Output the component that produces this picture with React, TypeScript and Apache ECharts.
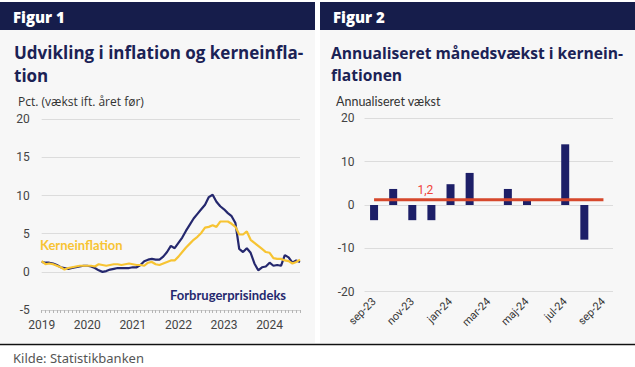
import React, { useEffect, useRef } from "react";
import * as echarts from "echarts";

// ---------- Data ----------
const years = ["2019", "2020", "2021", "2022", "2023", "2024"];
const monthsPerYear = ["01", "02", "03", "04", "05", "06", "07", "08", "09", "10", "11", "12"];
const lastMonthCount = 9; // 2024 ends in September

// Forbrugerprisindeks, pct. vækst ift. året før (2019-01 .. 2024-09)
const cpi = [
  1.3, 1.2, 1.2, 1.1, 0.9, 0.6, 0.5, 0.4, 0.5, 0.6, 0.7, 0.8,
  0.8, 0.7, 0.5, 0.2, 0.0, 0.1, 0.3, 0.4, 0.5, 0.5, 0.5, 0.5,
  0.6, 0.6, 0.9, 1.4, 1.6, 1.7, 1.6, 1.6, 2.0, 2.6, 3.4, 3.1,
  3.8, 4.5, 5.4, 6.2, 7.0, 7.6, 8.2, 8.8, 9.8, 10.1, 9.2, 8.6,
  8.2, 7.7, 7.3, 6.4, 3.0, 2.6, 3.1, 2.5, 1.1, 0.2, 0.6, 0.7,
  1.2, 0.8, 0.9, 0.8, 2.2, 1.9, 1.2, 1.5, 1.3,
];

// Kerneinflation (2019-01 .. 2024-09)
const core = [
  1.4, 1.0, 1.1, 1.0, 0.8, 0.6, 0.3, 0.5, 0.6, 0.7, 0.8, 0.8,
  0.8, 0.8, 0.7, 1.0, 0.9, 0.8, 0.9, 1.0, 1.0, 0.9, 1.0, 1.1,
  1.0, 0.9, 0.9, 0.8, 1.2, 1.3, 1.0, 0.9, 1.1, 1.3, 1.5, 1.5,
  2.0, 2.6, 3.2, 3.7, 4.2, 4.6, 5.1, 5.8, 5.9, 6.1, 5.9, 6.6,
  6.6, 6.6, 6.3, 5.9, 4.9, 4.9, 5.3, 4.2, 3.8, 3.4, 3.0, 2.6,
  2.5, 1.8, 1.7, 1.7, 1.5, 1.4, 1.1, 1.3, 1.6,
];

// Figur 2
const barMonths = [
  "sep-23", "okt-23", "nov-23", "dec-23", "jan-24", "feb-24", "mar-24",
  "apr-24", "maj-24", "jun-24", "jul-24", "aug-24", "sep-24",
];
const annualGrowth = [-3.5, 3.7, -3.5, -3.5, 4.8, 7.4, 0, 3.7, 1.3, 0, 14.0, -8.0, 0];
const averageLine = [1.2, 1.2, 1.2, 1.2, 1.2, 1.2, 1.2, 1.2, 1.2, 1.2, 1.2, 1.2, 1.2];
const averageLabelIndex = 3;

// ---------- Helpers ----------
const months: string[] = [];
years.forEach((y, yi) => {
  const count = yi === years.length - 1 ? lastMonthCount : 12;
  for (let m = 0; m < count; m++) months.push(`${y}-${monthsPerYear[m]}`);
});

const NAVY = "#161d4b";
const TITLE = "#1b2255";
const PANEL = "#f7f7f7";
const LINE_NAVY = "#25286e";
const YELLOW = "#f7c433";
const BAR = "#1d1f68";
const RED = "#d6482c";
const HEAD_FONT = "'Open Sans', Lato, sans-serif";
const LABEL_FONT = "Lato, 'Open Sans', sans-serif";
const AXIS_FONT = "Roboto, 'Noto Sans', sans-serif";

export default function App() {
  const ref = useRef<HTMLDivElement>(null);

  useEffect(() => {
    document.body.style.margin = "0";
    if (!ref.current) return;
    const chart = echarts.init(ref.current, undefined, { renderer: "svg" });

    const text = (x: number, y: number, t: string, font: string, fill: string, extra: any = {}) => ({
      type: "text",
      x,
      y,
      silent: true,
      style: { text: t, font, fill, textVerticalAlign: "middle", ...extra },
    });

    const option: any = {
      animation: false,
      backgroundColor: "#ffffff",
      graphic: [
        { type: "rect", shape: { x: 0, y: 2, width: 315, height: 341 }, style: { fill: PANEL }, z: -10, silent: true },
        { type: "rect", shape: { x: 320, y: 2, width: 315, height: 341 }, style: { fill: PANEL }, z: -10, silent: true },
        { type: "rect", shape: { x: 0, y: 2, width: 315, height: 28 }, style: { fill: NAVY }, z: -9, silent: true },
        { type: "rect", shape: { x: 320, y: 2, width: 315, height: 28 }, style: { fill: NAVY }, z: -9, silent: true },
        { type: "line", shape: { x1: 0, y1: 344.5, x2: 635, y2: 344.5 }, style: { stroke: "#111", lineWidth: 1.5 }, silent: true },
        text(13, 17, "Figur 1", `800 15px ${HEAD_FONT}`, "#ffffff"),
        text(333, 17, "Figur 2", `800 15px ${HEAD_FONT}`, "#ffffff"),
        text(14, 52.5, "Udvikling i inflation og kerneinfla-", `bold 17px ${HEAD_FONT}`, TITLE),
        text(14, 75, "tion", `bold 17px ${HEAD_FONT}`, TITLE),
        text(331, 52.5, "Annualiseret månedsvækst i kernein-", `bold 15.6px ${HEAD_FONT}`, TITLE),
        text(331, 75, "flationen", `bold 15.6px ${HEAD_FONT}`, TITLE),
        text(18, 101, "Pct. (vækst ift. året før)", `12px 'Open Sans', sans-serif`, "#333"),
        text(336, 101, "Annualiseret vækst", `12.5px ${LABEL_FONT}`, "#333"),
        text(40, 245, "Kerneinflation", `bold 13px ${LABEL_FONT}`, YELLOW),
        text(170, 295, "Forbrugerprisindeks", `bold 13px ${LABEL_FONT}`, LINE_NAVY),
        text(13, 358, "Kilde: Statistikbanken", `13px 'Noto Sans', sans-serif`, "#555"),
      ],
      grid: [
        { left: 41.7, top: 119.3, width: 258.3, height: 190.7 },
        { left: 364.5, top: 118.3, width: 248.5, height: 173.4 },
      ],
      xAxis: [
        {
          type: "category",
          gridIndex: 0,
          data: months,
          boundaryGap: false,
          axisLine: { show: true, onZero: false, lineStyle: { color: "#cfcfcf" } },
          axisTick: { show: true, interval: 0, length: 3, lineStyle: { color: "#b5b5b5" } },
          axisLabel: {
            interval: (i: number) => i % 12 === 0,
            formatter: (v: string) => v.slice(0, 4),
            fontSize: 12,
            color: "#444",
            fontFamily: AXIS_FONT,
            margin: 9,
          },
          splitLine: { show: false },
        },
        {
          type: "category",
          gridIndex: 1,
          data: barMonths,
          axisLine: { show: false },
          axisTick: { show: false },
          axisLabel: { interval: 1, rotate: 45, fontSize: 11, color: "#333", fontFamily: AXIS_FONT, margin: 8 },
          splitLine: { show: false },
        },
      ],
      yAxis: [
        {
          type: "value",
          gridIndex: 0,
          min: -5,
          max: 20,
          interval: 5,
          axisLine: { show: false },
          axisTick: { show: false },
          splitLine: { lineStyle: { color: "#dcdcdc" } },
          axisLabel: { fontSize: 12, color: "#444", fontFamily: AXIS_FONT, margin: 12 },
        },
        {
          type: "value",
          gridIndex: 1,
          min: -20,
          max: 20,
          interval: 10,
          axisLine: { show: false },
          axisTick: { show: false },
          splitLine: { lineStyle: { color: "#dcdcdc" } },
          axisLabel: { fontSize: 12, color: "#444", fontFamily: AXIS_FONT, margin: 10 },
        },
      ],
      series: [
        {
          type: "line",
          xAxisIndex: 0,
          yAxisIndex: 0,
          data: cpi,
          showSymbol: false,
          lineStyle: { color: LINE_NAVY, width: 2.2 },
          itemStyle: { color: LINE_NAVY },
          silent: true,
        },
        {
          type: "line",
          xAxisIndex: 0,
          yAxisIndex: 0,
          data: core,
          showSymbol: false,
          lineStyle: { color: YELLOW, width: 2.2 },
          itemStyle: { color: YELLOW },
          silent: true,
        },
        {
          type: "bar",
          xAxisIndex: 1,
          yAxisIndex: 1,
          data: annualGrowth,
          barWidth: 8,
          itemStyle: { color: BAR },
          silent: true,
        },
        {
          type: "line",
          xAxisIndex: 1,
          yAxisIndex: 1,
          data: averageLine.map((v, i) =>
            i === averageLabelIndex
              ? {
                  value: v,
                  label: {
                    show: true,
                    position: "top",
                    distance: 4,
                    offset: [-6, 0],
                    formatter: (p: any) => String(p.value).replace(".", ","),
                    color: "#f0443a",
                    fontSize: 12,
                    fontFamily: AXIS_FONT,
                  },
                }
              : v
          ),
          symbol: "circle",
          symbolSize: 0,
          showSymbol: true,
          lineStyle: { color: RED, width: 3 },
          itemStyle: { color: RED },
          silent: true,
          z: 5,
        },
      ],
    };

    chart.setOption(option);
    return () => chart.dispose();
  }, []);

  return <div ref={ref} style={{ width: 635, height: 367 }} />;
}
